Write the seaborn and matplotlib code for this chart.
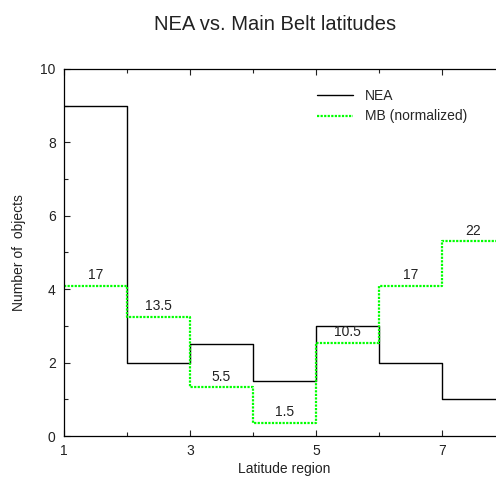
import numpy as np
import pandas as pd
import matplotlib
matplotlib.use("Agg")
import matplotlib.pyplot as plt
from matplotlib.ticker import FixedLocator, MultipleLocator
import seaborn as sns

# ── Data ──────────────────────────────────────────────────────────────────────
region_edges = [1, 2, 3, 4, 5, 6, 7, 8]
nea_counts = [9, 2, 2.5, 1.5, 3, 2, 1]
mb_normalized = [4.1, 3.25, 1.33, 0.36, 2.53, 4.1, 5.3]
mb_raw_labels = ["17", "13.5", "5.5", "1.5", "10.5", "17", "22"]
x_major = [1, 3, 5, 7]
x_minor = [2, 4, 6, 8]

sns.set_style("ticks")
plt.rcParams["font.family"] = ["Liberation Sans", "DejaVu Sans"]

fig = plt.figure(figsize=(4.96, 4.83), dpi=100)
ax = fig.add_axes([64 / 496, 47 / 483, 441 / 496, 367 / 483])


def steps(vals):
    return pd.DataFrame({"x": region_edges, "y": list(vals) + [vals[-1]]})


sns.lineplot(data=steps(nea_counts), x="x", y="y", ax=ax, drawstyle="steps-post",
             color="black", linewidth=1.0, label="NEA")
sns.lineplot(data=steps(mb_normalized), x="x", y="y", ax=ax, drawstyle="steps-post",
             color="#00ff00", linewidth=1.6, linestyle=(0, (1, 0.6)),
             label="MB (normalized)")

for lo, hi, v, lab in zip(region_edges[:-1], region_edges[1:], mb_normalized, mb_raw_labels):
    ax.text((lo + hi) / 2, v + 0.1, lab, ha="center", va="bottom", fontsize=10,
            color="#222")

ax.set_xlim(1, 8)
ax.set_ylim(0, 10)
ax.xaxis.set_major_locator(FixedLocator(x_major))
ax.xaxis.set_minor_locator(FixedLocator(x_minor))
ax.yaxis.set_major_locator(MultipleLocator(2))
ax.yaxis.set_minor_locator(MultipleLocator(1))
ax.tick_params(which="both", direction="in", top=True, right=False,
               labelsize=10, colors="#222", width=0.8)
ax.tick_params(which="major", length=4, pad=6)
ax.tick_params(which="minor", length=3)
for s in ["left", "bottom", "top"]:
    ax.spines[s].set_visible(True)
    ax.spines[s].set_linewidth(0.9)
    ax.spines[s].set_color("black")
ax.spines["right"].set_visible(False)

ax.set_xlabel("Latitude region", fontsize=10, color="#222", labelpad=3)
ax.set_ylabel("Number of  objects", fontsize=10, color="#222", labelpad=10)
fig.suptitle("NEA vs. Main Belt latitudes", fontsize=14.5, x=0.555, y=0.968,
             color="#222")

ax.legend(loc="upper left", bbox_to_anchor=(0.56, 0.96), frameon=False,
          fontsize=10, handlelength=2.6, handletextpad=0.9, labelspacing=0.45,
          borderaxespad=0)

fig.savefig("out.png", dpi=100)
